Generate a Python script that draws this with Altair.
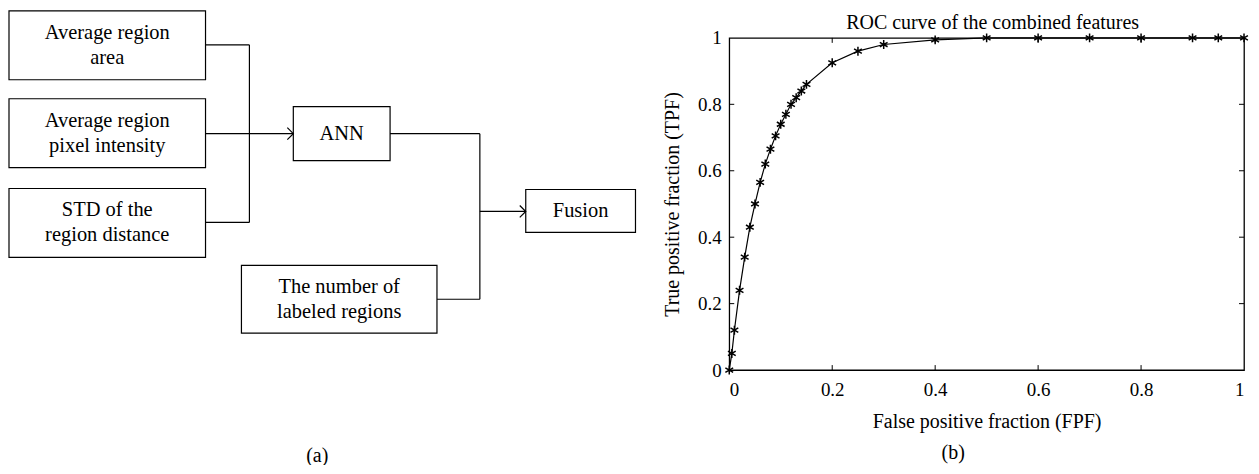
import altair as alt
import pandas as pd

FONT = "Liberation Serif"

# ---------------- (a) block diagram ----------------
box_labels = ["Average region\narea", "Average region\npixel intensity", "STD of the\nregion distance",
              "ANN", "Fusion", "The number of\nlabeled regions"]
box_x1 = [9, 9, 9, 294, 527, 242]
box_x2 = [206, 206, 206, 391, 637, 438]
box_y1 = [10, 98, 188, 106, 189, 265]
box_y2 = [79, 167, 257, 160, 232, 333]

seg_x1 = [206, 206, 250, 206, 391, 438, 481, 481]
seg_y1 = [44, 222, 44, 133, 133, 299, 133, 211]
seg_x2 = [250, 250, 250, 294, 481, 481, 481, 527]
seg_y2 = [44, 222, 222, 133, 133, 299, 299, 211]

arrow_x = [294, 527]
arrow_y = [133, 211]

panel_labels = ["(a)", "(b)"]
panel_x = [318, 955.5]
panel_y = [462, 459]

# ---------------- (b) ROC curve ----------------
fpf = [0, 0.005, 0.01, 0.02, 0.03, 0.04, 0.05, 0.06, 0.07, 0.08, 0.09, 0.10, 0.11, 0.12,
       0.13, 0.14, 0.15, 0.2, 0.25, 0.3, 0.4, 0.5, 0.6, 0.7, 0.8, 0.9, 0.95, 1.0]
tpf = [0, 0.05, 0.12, 0.24, 0.34, 0.43, 0.50, 0.565, 0.62, 0.665, 0.705, 0.74, 0.77, 0.80,
       0.82, 0.84, 0.86, 0.925, 0.96, 0.98, 0.994, 1, 1, 1, 1, 1, 1, 1]
tick_values = [0, 0.2, 0.4, 0.6, 0.8, 1]
inner_ticks = [0.2, 0.4, 0.6, 0.8]

W_A = 700
SPACING = 23
ROC_W, ROC_H = 516, 333

boxes = pd.DataFrame({"label": box_labels, "x1": box_x1, "x2": box_x2, "y1": box_y1, "y2": box_y2})
segs = pd.DataFrame({"x1": seg_x1, "y1": seg_y1, "x2": seg_x2, "y2": seg_y2})
arrows = pd.DataFrame({"x": arrow_x, "y": arrow_y})
panels = pd.DataFrame({"label": panel_labels, "x": panel_x, "y": panel_y})

xs = alt.Scale(domain=[8, 8 + W_A], nice=False, zero=False)
ys = alt.Scale(domain=[37, 37 + ROC_H], reverse=True, nice=False, zero=False)

rects = alt.Chart(boxes).mark_rect(fill="white", stroke="black", strokeWidth=1.2).encode(
    x=alt.X("x1:Q", scale=xs, axis=None), x2="x2:Q",
    y=alt.Y("y1:Q", scale=ys, axis=None), y2="y2:Q")
texts = alt.Chart(boxes).transform_calculate(
    cx="(datum.x1 + datum.x2) / 2",
    cy="(datum.y1 + datum.y2) / 2 - (length(split(datum.label, '\\n')) - 1) * 12.5",
).mark_text(font=FONT, fontSize=20.5, lineBreak="\n", lineHeight=25,
            color="black", baseline="middle", align="center").encode(
    x=alt.X("cx:Q", scale=xs, axis=None), y=alt.Y("cy:Q", scale=ys, axis=None), text="label:N")
lines = alt.Chart(segs).mark_rule(color="black", strokeWidth=1.2).encode(
    x=alt.X("x1:Q", scale=xs, axis=None), x2="x2:Q",
    y=alt.Y("y1:Q", scale=ys, axis=None), y2="y2:Q")
heads = alt.Chart(arrows).mark_point(shape="M-1,-1L0,0L-1,1", size=144, filled=False,
                                     color="black", strokeWidth=1.2, opacity=1).encode(
    x=alt.X("x:Q", scale=xs, axis=None), y=alt.Y("y:Q", scale=ys, axis=None))
ptxt = alt.Chart(panels).mark_text(font=FONT, fontSize=20, color="black",
                                   baseline="alphabetic").encode(
    x=alt.X("x:Q", scale=xs, axis=None), y=alt.Y("y:Q", scale=ys, axis=None), text="label:N")

diagram = alt.layer(rects, lines, heads, texts, ptxt).properties(width=W_A, height=ROC_H)

roc_df = pd.DataFrame({"fpf": fpf, "tpf": tpf})
tkx = pd.DataFrame({"fpf": inner_ticks})
tky = pd.DataFrame({"tpf": inner_ticks})

rx = alt.Scale(domain=[0, 1], nice=False, zero=False)
ry = alt.Scale(domain=[0, 1], nice=False, zero=False)

axis_common = dict(values=tick_values, format="~g", ticks=False, domain=False, grid=False,
                   labelFont=FONT, labelFontSize=19, labelColor="black",
                   titleFont=FONT, titleFontSize=20, titleFontWeight="normal", titleColor="black")

roc_line = alt.Chart(roc_df).mark_line(color="black", strokeWidth=1.2).encode(
    x=alt.X("fpf:Q", scale=rx, axis=alt.Axis(title="False positive fraction (FPF)",
                                            labelPadding=10, titlePadding=13, **axis_common)),
    y=alt.Y("tpf:Q", scale=ry, axis=alt.Axis(title="True positive fraction (TPF)",
                                            labelPadding=8, titlePadding=15, **axis_common)))
roc_pts = alt.Chart(roc_df).mark_point(
    shape="M0,-1L0,1M-0.866,-0.5L0.866,0.5M-0.866,0.5L0.866,-0.5",
    size=81, filled=False, color="black", strokeWidth=1.5, opacity=1).encode(
    x=alt.X("fpf:Q", scale=rx), y=alt.Y("tpf:Q", scale=ry))

t_bottom = alt.Chart(tkx).mark_rule(color="black", strokeWidth=1).encode(
    x=alt.X("fpf:Q", scale=rx), y=alt.value(ROC_H), y2=alt.value(ROC_H - 5))
t_top = alt.Chart(tkx).mark_rule(color="black", strokeWidth=1).encode(
    x=alt.X("fpf:Q", scale=rx), y=alt.value(0), y2=alt.value(5))
t_left = alt.Chart(tky).mark_rule(color="black", strokeWidth=1).encode(
    y=alt.Y("tpf:Q", scale=ry), x=alt.value(0), x2=alt.value(5))
t_right = alt.Chart(tky).mark_rule(color="black", strokeWidth=1).encode(
    y=alt.Y("tpf:Q", scale=ry), x=alt.value(ROC_W), x2=alt.value(ROC_W - 5))

roc = alt.layer(roc_line, roc_pts, t_bottom, t_top, t_left, t_right).properties(
    width=ROC_W, height=ROC_H,
    title=alt.TitleParams("ROC curve of the combined features", font=FONT, fontSize=20,
                          fontWeight="normal", color="black", offset=6, dy=10, dx=6,
                          frame="group", anchor="middle"),
    view=alt.ViewBackground(stroke="black", strokeWidth=1.3))

chart = alt.hconcat(diagram, roc, spacing=SPACING, bounds="flush").properties(
    padding={"left": 0, "top": 1.4, "right": -1, "bottom": -1.5},
    background="white").configure_view(strokeWidth=0)

chart.save("out.html", embed_options={"renderer": "svg", "actions": False})
